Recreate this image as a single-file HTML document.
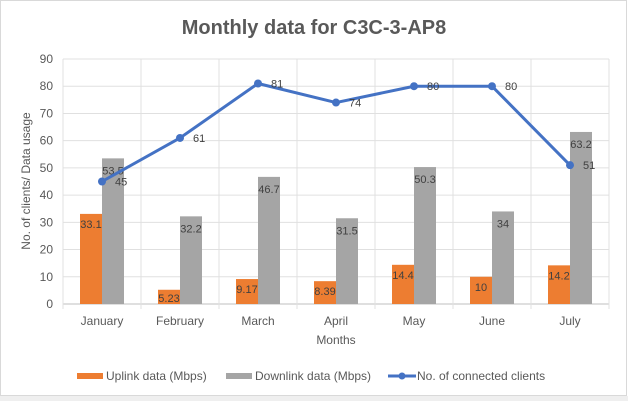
<!DOCTYPE html>
<html><head><meta charset="utf-8"><style>
body{margin:0;background:#fff;font-family:"Liberation Sans",sans-serif}
</style></head><body>
<svg width="628" height="401" id="c" xmlns="http://www.w3.org/2000/svg" font-family="Liberation Sans, sans-serif">
<rect x="0.5" y="0.5" width="626" height="395" fill="#fff" stroke="#d9d9d9"/>
<rect x="0" y="396" width="628" height="5" fill="#efefef"/>
<text x="314" y="34" text-anchor="middle" font-size="20" font-weight="bold" fill="#595959">Monthly data for C3C-3-AP8</text>
<text transform="translate(30,181) rotate(-90)" text-anchor="middle" font-size="12" fill="#595959">No. of clients/ Data usage</text>
<text x="336" y="344" text-anchor="middle" font-size="12" fill="#595959">Months</text>
<g id="grid"></g><g id="bars"></g><g id="line"></g>
<g>
<rect x="77" y="373" width="26" height="6" fill="#ed7d31"/>
<text x="106" y="380" font-size="12" fill="#595959">Uplink data (Mbps)</text>
<rect x="226" y="373" width="26" height="6" fill="#a5a5a5"/>
<text x="255" y="380" font-size="12" fill="#595959">Downlink data (Mbps)</text>
<line x1="388" y1="376" x2="416" y2="376" stroke="#4472c4" stroke-width="3"/>
<circle cx="402" cy="376" r="3.5" fill="#4472c4"/>
<text x="417" y="380" font-size="12" fill="#595959">No. of connected clients</text>
</g>
</svg>
<script>
const categories=["January","February","March","April","May","June","July"];
const uplink=[33.1,5.23,9.17,8.39,14.4,10,14.2];
const downlink=[53.5,32.2,46.7,31.5,50.3,34,63.2];
const clients=[45,61,81,74,80,80,51];
const yTicks=[0,10,20,30,40,50,60,70,80,90];
const NS="http://www.w3.org/2000/svg";
const L=63,R=609,T=59,B=304,yMax=90;
const bw=(R-L)/categories.length;
const y=v=>B-(v/yMax)*(B-T);
const xc=i=>L+bw*(i+0.5);
function mk(p,tag,a){const e=document.createElementNS(NS,tag);for(const k in a)e.setAttribute(k,a[k]);document.getElementById(p).appendChild(e);return e;}
yTicks.forEach(t=>{
 const g=mk('grid','line',{x1:L,x2:R,y1:y(t),y2:y(t),stroke:t===0?'#bfbfbf':'#e0e0e0'});
 
 
 const tx=mk('grid','text',{x:L-10,y:y(t)+4,'text-anchor':'end','font-size':12,fill:'#595959'});tx.textContent=t;
 
 
});
for(let i=0;i<=categories.length;i++){
 const g=mk('grid','line',{x1:L+bw*i,x2:L+bw*i,y1:T,y2:B+5,stroke:'#e0e0e0'});
 
 
}
categories.forEach((c,i)=>{
 const tx=mk('grid','text',{x:xc(i),y:325,'text-anchor':'middle','font-size':12,fill:'#595959'});tx.textContent=c;
 
 
 const w=22;
 const u=mk('bars','rect',{x:xc(i)-w,y:y(uplink[i]),width:w,height:B-y(uplink[i]),fill:'#ed7d31'});
 
 
 const d=mk('bars','rect',{x:xc(i),y:y(downlink[i]),width:w,height:B-y(downlink[i]),fill:'#a5a5a5'});
 
 
 const ul=mk('bars','text',{x:xc(i)-w/2,y:Math.min(y(uplink[i])+14,B-2),'text-anchor':'middle','font-size':11,fill:'#404040'});ul.textContent=uplink[i];
 
 
 const dl=mk('bars','text',{x:xc(i)+w/2,y:y(downlink[i])+16,'text-anchor':'middle','font-size':11,fill:'#404040'});dl.textContent=downlink[i];
 
 
});
const pl=mk('line','polyline',{points:clients.map((v,i)=>xc(i)+','+y(v)).join(' '),fill:'none',stroke:'#4472c4','stroke-width':3,'stroke-linejoin':'round'});


clients.forEach((v,i)=>{
 const p=mk('line','circle',{cx:xc(i),cy:y(v),r:4,fill:'#4472c4'});
 
 
 const t=mk('line','text',{x:xc(i)+13,y:y(v)+4,'font-size':11,fill:'#404040'});t.textContent=v;
 
 
});
</script>
</body></html>
